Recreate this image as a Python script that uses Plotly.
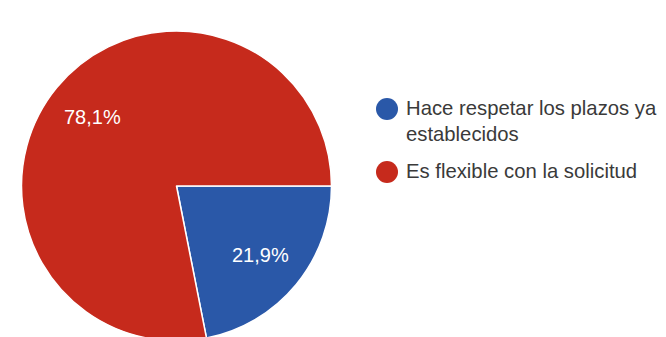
import math
import plotly.graph_objects as go

labels = ["Hace respetar los plazos ya<br>establecidos", "Es flexible con la solicitud"]
values = [21.9, 78.1]
colors = ["#2A58A8", "#C62A1C"]

W, H = 666, 337
FONT = "Liberation Sans, Arial, sans-serif"

# pie geometry (pixels)
CX, CY, R = 168.5, 178.0, 155.0
START_DEG = 90  # plotly rotation: start at 3 o'clock, clockwise

fig = go.Figure()
fig.add_trace(go.Pie(
    labels=labels,
    values=values,
    sort=False,
    direction="clockwise",
    rotation=START_DEG,
    marker=dict(colors=colors, line=dict(color="white", width=1.5)),
    textinfo="none",
    showlegend=False,
    domain=dict(x=[(CX - R) / W, (CX + R) / W], y=[(H - CY - R) / H, (H - CY + R) / H]),
    hoverinfo="label+percent",
))

annotations = []
# percentage labels placed along each slice's mid angle
total = sum(values)
cum = 0.0
for v in values:
    mid = (cum + v / 2) / total * 360.0  # degrees clockwise from 3 o'clock
    cum += v
    px = CX + 0.70 * R * math.cos(math.radians(mid))
    py = CY + 0.70 * R * math.sin(math.radians(mid))
    annotations.append(dict(
        x=px / W, y=1 - py / H, xref="paper", yref="paper",
        text=f"{v / total * 100:.1f}%".replace(".", ","),
        showarrow=False, xanchor="center", yanchor="middle",
        font=dict(color="white", size=20, family=FONT),
    ))

# legend (circle + text per category)
LEG_X, LEG_Y0, LEG_R, LEG_GAP = 379, 101, 11, 63
shapes = []
for i, (name, col) in enumerate(zip(labels, colors)):
    cy = LEG_Y0 + i * LEG_GAP
    shapes.append(dict(
        type="circle", xref="paper", yref="paper",
        x0=(LEG_X - LEG_R) / W, x1=(LEG_X + LEG_R) / W,
        y0=1 - (cy + LEG_R) / H, y1=1 - (cy - LEG_R) / H,
        fillcolor=col, line=dict(width=0),
    ))
    annotations.append(dict(
        x=(LEG_X + 17) / W, y=1 - (cy - 14.3) / H, xref="paper", yref="paper",
        text=name, showarrow=False, xanchor="left", yanchor="top", align="left",
        font=dict(color="#3a3a3a", size=20.3, family=FONT),
    ))

fig.update_layout(
    width=W, height=H,
    margin=dict(l=0, r=0, t=0, b=0),
    paper_bgcolor="white",
    plot_bgcolor="white",
    showlegend=False,
    annotations=annotations,
    shapes=shapes,
)

fig.write_html("out.html")
